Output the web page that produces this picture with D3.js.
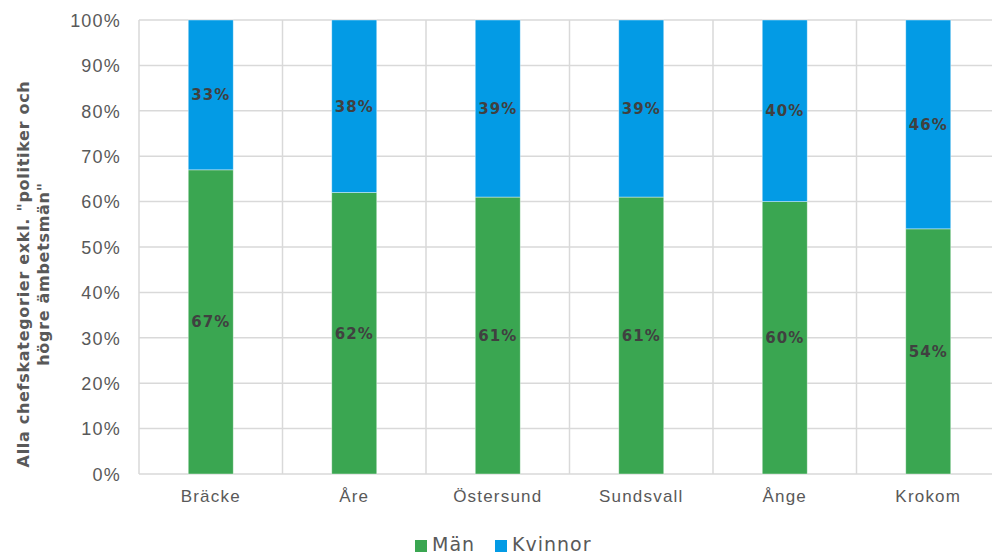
<!DOCTYPE html>
<html>
<head>
<meta charset="utf-8">
<script src="https://cdn.jsdelivr.net/npm/d3@7"></script>
<style>
  html, body { margin: 0; padding: 0; background: #fff; }
  svg { display: block; font-family: "DejaVu Sans", Verdana, sans-serif; }
</style>
</head>
<body>
<svg id="chart" width="992" height="556"></svg>
<script>
// Andel män och kvinnor per kommun
const categories = ["Bräcke", "Åre", "Östersund", "Sundsvall", "Ånge", "Krokom"];
const man = [67, 62, 61, 61, 60, 54];
const kvinnor = [33, 38, 39, 39, 40, 46];
const seriesNames = ["Män", "Kvinnor"];
const yTicks = [0, 10, 20, 30, 40, 50, 60, 70, 80, 90, 100];
const yTitle = ["Alla chefskategorier exkl. \"politiker och", "högre ämbetsmän\""];

const colors = { "Män": "#3aa651", "Kvinnor": "#039be5" };

const svg = d3.select("#chart");
const margin = { left: 139, top: 20, right: -8, bottom: 82 };
const W = 992, H = 556;
const x0 = margin.left, x1 = W - margin.right;
const y0 = H - margin.bottom, y1 = margin.top;

const x = d3.scaleBand().domain(categories).range([x0, x1]).padding(0);
const y = d3.scaleLinear().domain([0, 100]).range([y0, y1]);
const barW = 45;

const rows = categories.map((c, i) => ({ cat: c, "Män": man[i], "Kvinnor": kvinnor[i] }));
const stacked = d3.stack().keys(seriesNames)(rows);

// grid lines
const grid = svg.append("g");
grid.selectAll("line.h").data(yTicks).join("line")
  .attr("x1", x0).attr("x2", x1)
  .attr("y1", d => y(d)).attr("y2", d => y(d))
  .attr("stroke", "#d9d9d9").attr("stroke-width", 1.5);
const bounds = categories.map(c => x(c)).concat([x1]);
grid.selectAll("line.v").data(bounds).join("line")
  .attr("x1", d => d).attr("x2", d => d)
  .attr("y1", y1).attr("y2", y0)
  .attr("stroke", "#d9d9d9").attr("stroke-width", 1.5);

// y axis
const yAxis = svg.append("g")
  .attr("transform", `translate(${x0},0)`)
  .call(d3.axisLeft(y).tickValues(yTicks).tickFormat(d => d + "%").tickSize(0).tickPadding(18));
yAxis.select(".domain").remove();
yAxis.selectAll("text")
  .attr("fill", "#595959").style("font-size", "18px").style("letter-spacing", "1.2px")
  .attr("dy", "0.35em");

// x axis
const xAxis = svg.append("g")
  .attr("transform", `translate(0,${y0})`)
  .call(d3.axisBottom(x).tickSize(0).tickPadding(16));
xAxis.select(".domain").remove();
xAxis.selectAll("text")
  .attr("fill", "#595959").style("font-size", "17px").style("letter-spacing", "1.2px");

// bars
const layers = svg.append("g").selectAll("g").data(stacked).join("g")
  .attr("fill", d => colors[d.key]);
layers.selectAll("rect").data(d => d).join("rect")
  .attr("x", d => x(d.data.cat) + x.bandwidth() / 2 - barW / 2)
  .attr("width", barW)
  .attr("y", d => y(d[1]))
  .attr("height", d => y(d[0]) - y(d[1]))
  .attr("stroke", "rgba(255,255,255,0.5)").attr("stroke-width", 0.8);

// value labels
const lab = svg.append("g").selectAll("g").data(stacked).join("g");
lab.selectAll("text").data(d => d.map(v => ({ v, key: d.key }))).join("text")
  .attr("x", d => x(d.v.data.cat) + x.bandwidth() / 2)
  .attr("y", d => y((d.v[0] + d.v[1]) / 2))
  .attr("dy", "0.36em")
  .attr("text-anchor", "middle")
  .attr("fill", "#404040")
  .style("font-size", "15px").style("font-weight", "bold").style("letter-spacing", "1px")
  .text(d => (d.v.data[d.key]) + "%");

// y title
const yt = svg.append("text")
  .attr("transform", `translate(29,274) rotate(-90)`)
  .attr("text-anchor", "middle")
  .attr("fill", "#595959")
  .style("font-size", "16px").style("font-weight", "bold").style("letter-spacing", "0.7px");
yt.selectAll("tspan").data(yTitle).join("tspan")
  .attr("x", 0).attr("dy", (d, i) => i === 0 ? 0 : 20)
  .text(d => d);

// legend
const leg = svg.append("g");
const legX = [415, 495];
seriesNames.forEach((s, i) => {
  leg.append("rect").attr("x", legX[i]).attr("y", 540).attr("width", 12).attr("height", 12)
    .attr("fill", colors[s]);
  leg.append("text").attr("x", legX[i] + 17).attr("y", 551)
    .attr("fill", "#595959").style("font-size", "19px").style("letter-spacing", "1px").text(s);
});
</script>
</body>
</html>
